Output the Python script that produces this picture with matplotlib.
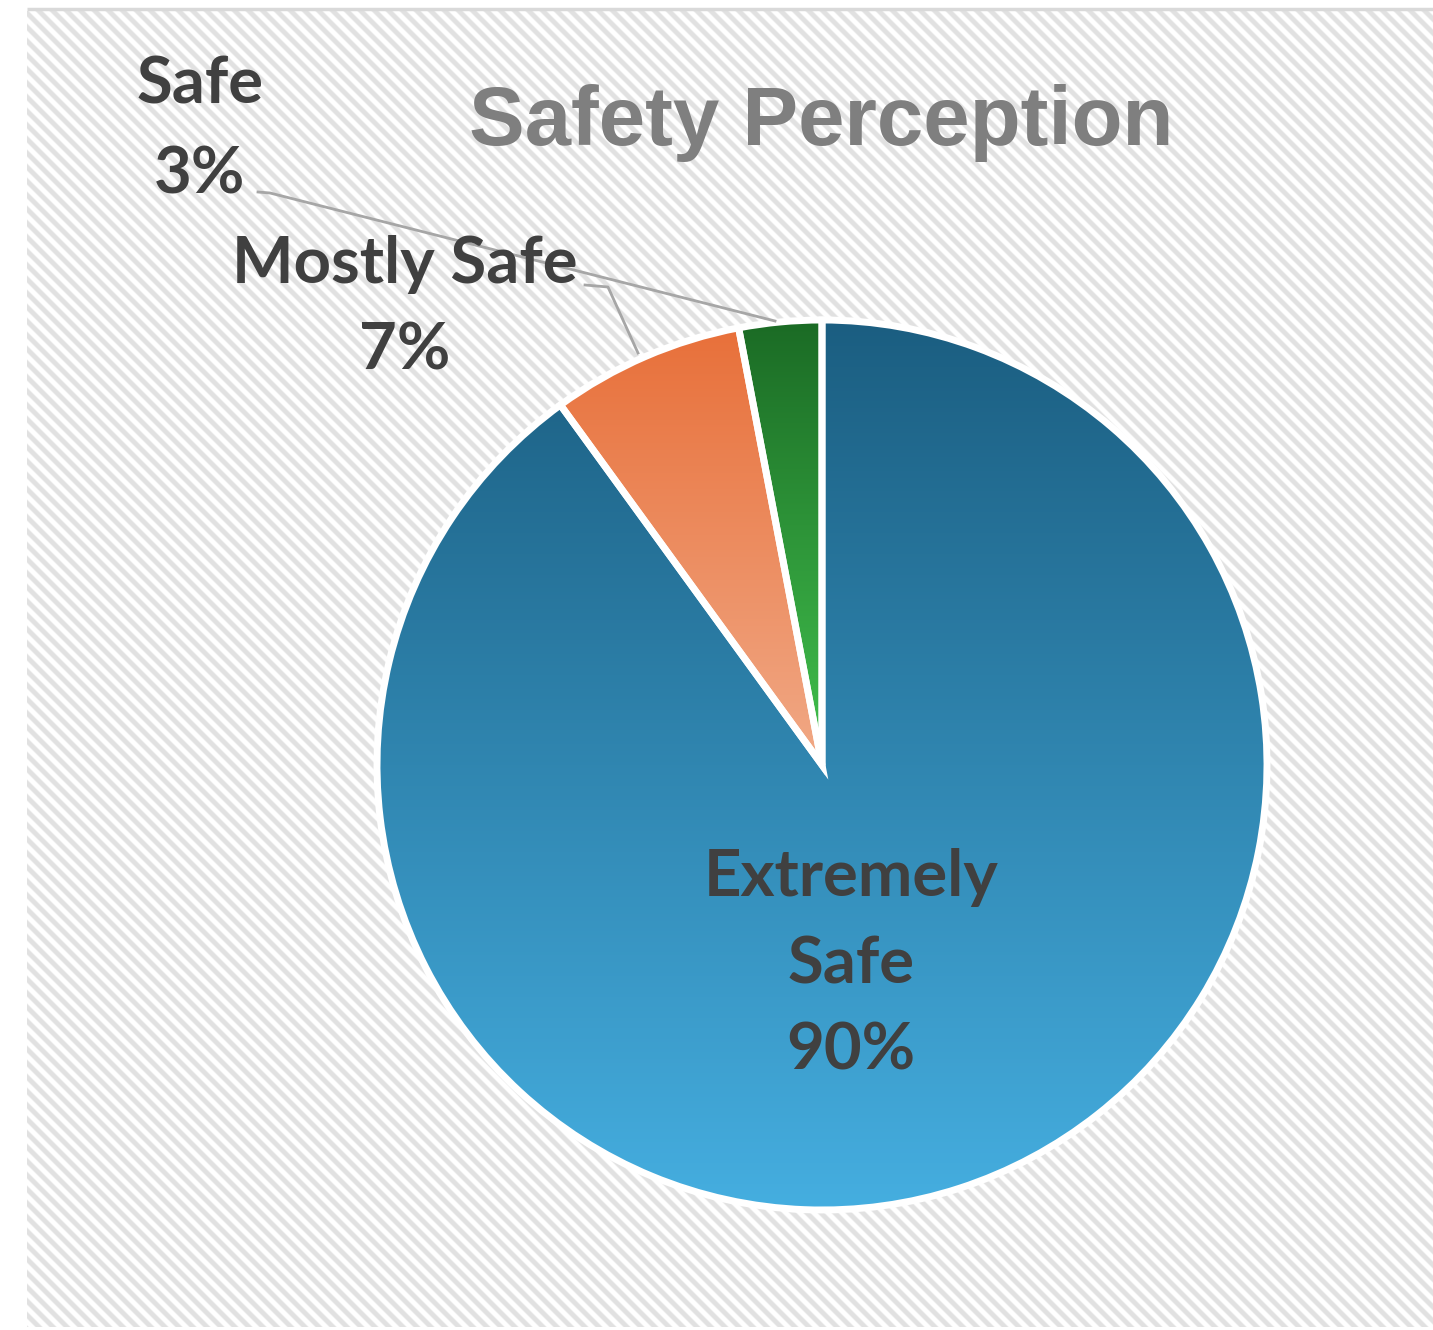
import numpy as np
import matplotlib
matplotlib.use("Agg")
import matplotlib.pyplot as plt
from matplotlib.colors import LinearSegmentedColormap

categories = ["Extremely Safe", "Mostly Safe", "Safe"]
shares = [90, 7, 3]
# top / bottom colour of each slice's vertical gradient
grad_top = ["#1b5e81", "#e8703a", "#1b6b25"]
grad_bottom = ["#45aee0", "#f1a986", "#42c24e"]

W, H = 1433, 1330

fig = plt.figure(figsize=(W / 100, H / 100), dpi=100)
ax = fig.add_axes([0, 0, 1, 1])
ax.set_xlim(0, W)
ax.set_ylim(0, H)
ax.axis("off")

def y(v):
    # image rows run downward; data y runs upward
    return H - v

# diagonal-striped chart area
x0, top, bot = 27, 11, 1327
xx, yy = np.meshgrid(np.arange(x0, W), np.arange(top, bot))
phase = ((xx - yy) % 14) / 14.0
stripe = np.clip(0.5 + 1.2 * np.cos(2 * np.pi * phase), 0, 1)
bg = 1.0 - 0.12 * stripe
ax.imshow(bg, cmap="gray", vmin=0, vmax=1, origin="upper",
          extent=[x0, W, y(bot), y(top)], zorder=0, aspect="auto",
          interpolation="nearest")
ax.plot([x0, W], [y(9), y(9)], color="#d9d9d9", lw=2.5, zorder=0.5,
        solid_capstyle="butt")

cx, cy, R = 822, y(765), 445
wedges, _ = ax.pie(shares, startangle=90, counterclock=False, radius=R,
                   center=(cx, cy), frame=True,
                   wedgeprops=dict(facecolor="none", edgecolor="white", lw=5,
                                   zorder=3))

for w, c0, c1 in zip(wedges, grad_top, grad_bottom):
    ext = w.get_path().get_extents()
    cmap = LinearSegmentedColormap.from_list("g", [c0, c1])
    grad = np.linspace(0, 1, 256).reshape(-1, 1)
    im = ax.imshow(grad, cmap=cmap, aspect="auto", origin="upper",
                   extent=[ext.x0, ext.x1, ext.y0, ext.y1], zorder=2,
                   interpolation="bilinear")
    im.set_clip_path(w)
ax.set_xlim(0, W)
ax.set_ylim(0, H)
ax.set_aspect("auto")

lbl = dict(fontsize=47, fontweight="bold", color="#404040", ha="center",
           va="baseline", family="Lato", zorder=5)

# data labels: name lines then percentage
label_lines = [["Extremely", "Safe"], ["Mostly Safe"], ["Safe"]]
label_pos = [(851, [896, 983, 1069]), (405, [283, 370]), (200, [104, 193])]
for lines, v, (lx, rows) in zip(label_lines, shares, label_pos):
    for t, r in zip(lines + [f"{v}%"], rows):
        ax.text(lx, y(r), t, **lbl)

# leader lines for the small slices
lead = dict(color="#a6a6a6", lw=2, zorder=4)
ax.plot([258, 270, 775], [y(192), y(193), y(321)], **lead)
ax.plot([585, 608, 638], [y(285), y(287), y(353)], **lead)

ax.text(821, y(145), "Safety Perception", fontsize=60, fontweight="bold",
        color="#7f7f7f", ha="center", va="baseline", family="Liberation Sans",
        zorder=5)

fig.savefig("out.png", dpi=100)
